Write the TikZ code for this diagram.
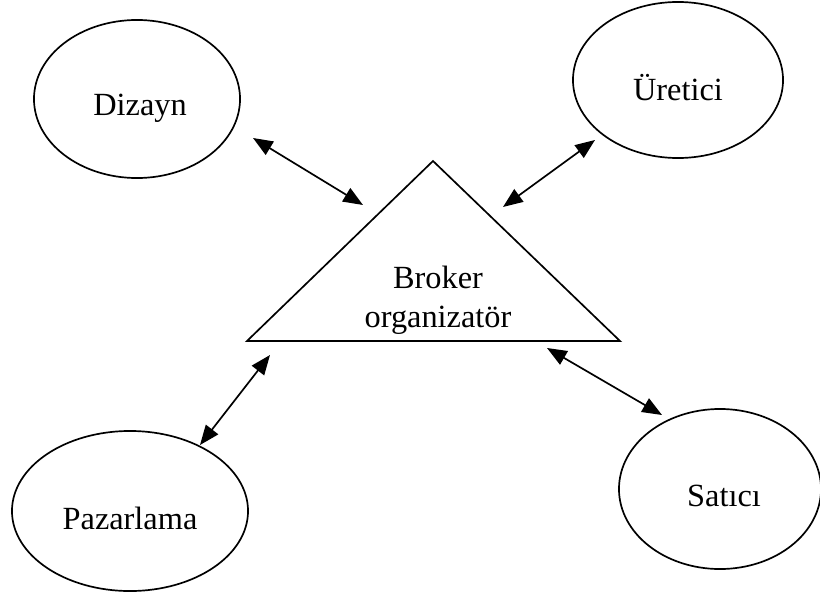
\documentclass[tikz,border=0pt]{standalone}
\usepackage{fontspec}
\setmainfont{Liberation Serif}
\usetikzlibrary{arrows.meta,shapes.geometric}
\begin{document}
\begin{tikzpicture}[x=0.025cm,y=-0.025cm,
  oval/.style={draw,line width=1.2pt,ellipse,inner sep=0pt},
  lbl/.style={font=\fontsize{23pt}{27.5pt}\selectfont},
  tip/.style={Triangle[length=14pt,width=11pt]},
  link/.style={line width=1.2pt,{Triangle[length=14pt,width=11pt]}-{Triangle[length=14pt,width=11pt]}}]
\useasboundingbox (0,0) rectangle (820,592);
% actor ellipses
\node[oval,minimum width=5.15cm,minimum height=3.95cm] (dizayn) at (137,99) {};
\node[oval,minimum width=5.25cm,minimum height=3.9cm] (uretici) at (678,80) {};
\node[oval,minimum width=5.9cm,minimum height=4.0cm] (pazar) at (130,511) {};
\node[oval,minimum width=5.05cm,minimum height=4.0cm] (satici) at (720,489) {};
\node[lbl] at (140,108) {Dizayn};
\node[lbl] at (678,88) {Üretici};
\node[lbl] at (130,518) {Pazarlama};
\node[lbl] at (724,496) {Satıcı};
% central broker triangle
\draw[line width=1.2pt,line join=miter] (433,161) -- (620,341) -- (247,341) -- cycle;
\node[lbl,align=center] (broker) at (438,300) {Broker\\organizatör};
% connector end points
\coordinate (d1) at (253,138); \coordinate (d2) at (363,205);
\coordinate (u1) at (595,140); \coordinate (u2) at (503,207);
\coordinate (p1) at (270,355); \coordinate (p2) at (200,445);
\coordinate (s1) at (547,348); \coordinate (s2) at (662,415);
\draw[link] (d1) -- (d2);
\draw[link] (u1) -- (u2);
\draw[link] (p1) -- (p2);
\draw[link] (s1) -- (s2);
\end{tikzpicture}
\end{document}
